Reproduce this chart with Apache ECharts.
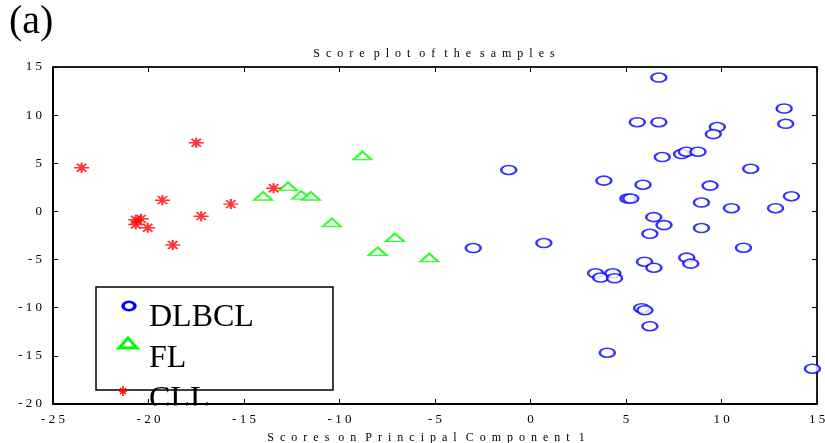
<!DOCTYPE html>
<html>
<head>
<meta charset="utf-8">
<script src="https://cdn.jsdelivr.net/npm/echarts@6/dist/echarts.min.js"></script>
<style>html,body{margin:0;padding:0;background:#fff;}#c{width:825px;height:443px;}</style>
</head>
<body>
<div id="c"></div>
<script>
var dlbcl = [[6.72,13.9],[13.28,10.69],[5.59,9.27],[6.72,9.27],[13.36,9.1],[9.78,8.76],[9.57,8.03],[6.9,5.65],[7.91,5.96],[8.16,6.2],[8.77,6.2],[11.53,4.44],[3.84,3.2],[5.89,2.78],[9.4,2.68],[5.1,1.34],[5.25,1.34],[8.95,0.92],[13.66,1.58],[10.52,0.34],[12.83,0.34],[6.45,-0.59],[6.99,-1.42],[8.95,-1.73],[6.25,-2.32],[0.7,-3.28],[11.15,-3.77],[5.97,-5.22],[6.46,-5.84],[8.18,-4.8],[8.39,-5.42],[3.41,-6.43],[3.67,-6.87],[4.31,-6.43],[4.4,-6.95],[5.82,-10.05],[5.99,-10.26],[6.25,-11.92],[4.02,-14.67],[14.76,-16.33],[-1.14,4.31],[-3.0,-3.8]];
var fl = [[-14.0,1.6],[-12.7,2.6],[-12.0,1.7],[-11.5,1.6],[-10.4,-1.15],[-8.8,5.8],[-8.0,-4.15],[-7.1,-2.7],[-5.3,-4.8]];
var cll = [[-23.5,4.54],[-17.5,7.13],[-19.27,1.17],[-15.69,0.76],[-13.45,2.41],[-17.24,-0.49],[-20.67,-0.87],[-20.39,-0.77],[-20.67,-1.36],[-20.04,-1.7],[-18.73,-3.49]];
var seriesNames = ['DLBCL','FL','CLL'];
var xTicks = {min:-25, max:15, interval:5};
var yTicks = {min:-20, max:15, interval:5};
var titleWords = ['Score','plot','of','the','samples'];
var xNameWords = ['Scores','on','Principal','Component','1'];

var serif = 'Liberation Serif';
function spaced(v){ return String(v).split('').join(' '); }
function spreadWords(words){ return words.map(function(w){ return w.split('').join('\u2002'); }).join('\u2002 '); }
var lbl = {fontFamily: serif, fontSize: 13, color: '#000'};

var chart = echarts.init(document.getElementById('c'), null, {renderer:'canvas'});
var starPath = 'path://M0 5L16 5M8 0L8 10M3 1L13 9M13 1L3 9';
chart.setOption({
  animation: false,
  backgroundColor: '#fff',
  title: {
    text: spreadWords(titleWords), left: 429, top: 43, textAlign: 'center',
    textStyle: {fontFamily: serif, fontSize: 12, fontWeight: 'normal', color: '#000'}
  },
  grid: {left: 53, right: 8, top: 67, bottom: 39, show: true, borderColor: '#000', borderWidth: 1, containLabel: false, outerBoundsMode: 'none'},
  xAxis: [{
    type: 'value', min: xTicks.min, max: xTicks.max, interval: xTicks.interval, position: 'bottom',
    axisLine: {show: true, onZero: false, lineStyle: {color: '#000', width: 2}},
    axisTick: {show: true, inside: true, length: 5, lineStyle: {color: '#000'}},
    axisLabel: Object.assign({margin: 9, formatter: spaced}, lbl),
    splitLine: {show: false},
    name: spreadWords(xNameWords), nameLocation: 'middle', nameGap: 28,
    nameTextStyle: {fontFamily: serif, fontSize: 12, color: '#000', padding: [0, 18, 0, 0]}
  },{
    type: 'value', min: xTicks.min, max: xTicks.max, interval: xTicks.interval, position: 'top',
    axisLine: {show: true, onZero: false, lineStyle: {color: '#000', width: 1.5}},
    axisTick: {show: true, inside: true, length: 5, lineStyle: {color: '#000'}},
    axisLabel: {show: false}, splitLine: {show: false}
  }],
  yAxis: [{
    type: 'value', min: yTicks.min, max: yTicks.max, interval: yTicks.interval, position: 'left',
    axisLine: {show: true, onZero: false, lineStyle: {color: '#000', width: 2}},
    axisTick: {show: true, inside: true, length: 5, lineStyle: {color: '#000'}},
    axisLabel: Object.assign({margin: 11, formatter: spaced}, lbl),
    splitLine: {show: false}
  },{
    type: 'value', min: yTicks.min, max: yTicks.max, interval: yTicks.interval, position: 'right',
    axisLine: {show: true, onZero: false, lineStyle: {color: '#000', width: 1.5}},
    axisTick: {show: true, inside: true, length: 5, lineStyle: {color: '#000'}},
    axisLabel: {show: false}, splitLine: {show: false}
  }],
  series: [{
    name: seriesNames[0], type: 'scatter', data: dlbcl, symbol: 'emptyCircle', symbolSize: [15, 9],
    itemStyle: {color: '#0000ff', borderColor: '#0000ff', borderWidth: 1.5}
  },{
    name: seriesNames[1], type: 'scatter', data: fl, symbol: 'emptyTriangle', symbolSize: [18, 8],
    itemStyle: {color: '#00ff00', borderColor: '#00ff00', borderWidth: 1.5}
  },{
    name: seriesNames[2], type: 'scatter', data: cll, symbol: starPath, symbolSize: [15, 10],
    itemStyle: {color: '#ff0000', borderColor: '#ff0000', borderWidth: 1.8}
  }],
  graphic: [
    {type: 'text', left: 9, top: 2, style: {text: '(a)', font: '40px "Liberation Serif"', fill: '#000'}},
    {type: 'rect', shape: {x: 96, y: 287, width: 237, height: 103}, style: {fill: '#fff', stroke: '#000', lineWidth: 1.5}, z: 10},
    {type: 'circle', shape: {cx: 129, cy: 0, r: 6}, scaleY: 0.7, y: 306, originY: 0, style: {fill: 'none', stroke: '#0000ff', lineWidth: 3.5}, z: 11},
    {type: 'text', x: 149, y: 318, style: {text: seriesNames[0], font: '32px "Liberation Serif"', fill: '#000', textVerticalAlign: 'middle'}, z: 11},
    {type: 'polygon', shape: {points: [[119, 348], [137, 348], [128, 338]]}, style: {fill: 'none', stroke: '#00ff00', lineWidth: 3}, z: 11},
    {type: 'text', x: 149, y: 359, style: {text: seriesNames[1], font: '32px "Liberation Serif"', fill: '#000', textVerticalAlign: 'middle'}, z: 11},
    {type: 'line', shape: {x1: 119, y1: 391, x2: 127, y2: 391}, style: {stroke: '#ff0000', lineWidth: 1.5}, z: 11},
    {type: 'line', shape: {x1: 123, y1: 386, x2: 123, y2: 396}, style: {stroke: '#ff0000', lineWidth: 1.5}, z: 11},
    {type: 'line', shape: {x1: 120, y1: 388, x2: 126, y2: 394}, style: {stroke: '#ff0000', lineWidth: 1.5}, z: 11},
    {type: 'line', shape: {x1: 126, y1: 388, x2: 120, y2: 394}, style: {stroke: '#ff0000', lineWidth: 1.5}, z: 11},
    {type: 'text', x: 149, y: 400, style: {text: seriesNames[2], font: '32px "Liberation Serif"', fill: '#000', textVerticalAlign: 'middle'}, z: 11},
    {type: 'rect', shape: {x: 140, y: 405.5, width: 110, height: 5}, style: {fill: '#fff'}, z: 12}
  ]
});
</script>
</body>
</html>
